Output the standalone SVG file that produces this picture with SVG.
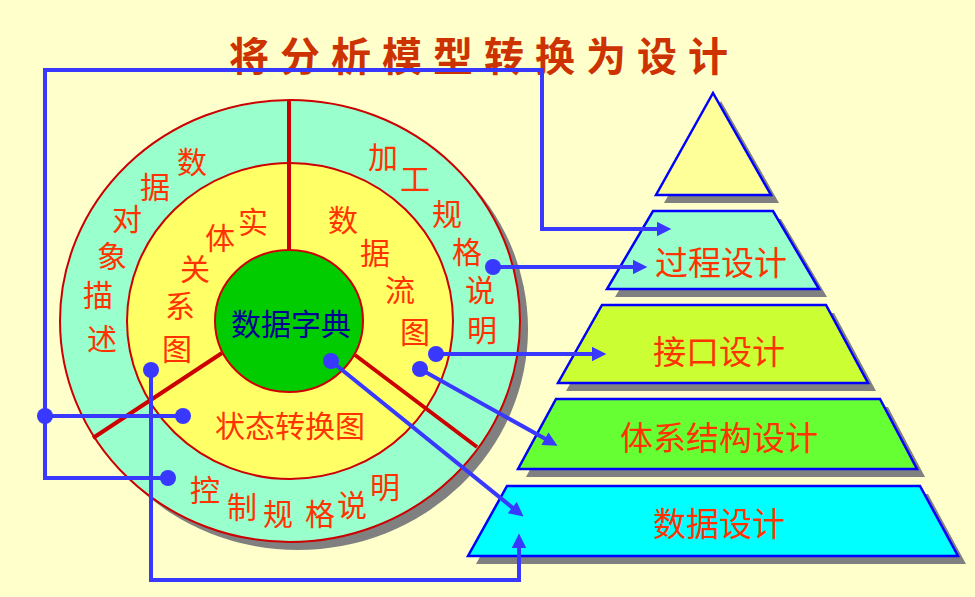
<svg xmlns="http://www.w3.org/2000/svg" width="975" height="597" viewBox="0 0 975 597">
<defs>
<style>
.ring{font-family:"Noto Sans CJK SC","Noto Sans",sans-serif;font-size:30px;fill:#FF3300;text-anchor:middle;dominant-baseline:central}
.lvl{font-family:"Noto Sans CJK SC","Noto Sans",sans-serif;font-size:33px;fill:#FF3300;text-anchor:middle;dominant-baseline:central}
.shadow{fill:#808080;stroke:none}
.tier{stroke:#0000FF;stroke-width:2.5}
.conn{fill:none;stroke:#3838FF;stroke-width:4}
.dot{fill:#3838FF}
.div{stroke:#CC0000;stroke-width:4}
</style>
<marker id="arr" viewBox="0 0 10 10" markerWidth="4" markerHeight="3.6" refX="6.25" refY="5" orient="auto" markerUnits="strokeWidth">
<path d="M0,0 L10,5 L0,10 z" fill="#3838FF"/>
</marker>
</defs>
<rect width="975" height="597" fill="#FFFFCC"/>
<text x="484" y="54" font-family="'Noto Sans CJK SC','Noto Sans',sans-serif" font-size="40" font-weight="bold" fill="#CC3300" text-anchor="middle" dominant-baseline="central" letter-spacing="11">将分析模型转换为设计</text>

<g id="wheel">
<ellipse cx="298" cy="329" rx="230" ry="221" class="shadow"/>
<ellipse cx="290" cy="321" rx="230" ry="221" fill="#99FFCC" stroke="#CC0000" stroke-width="2"/>
<ellipse cx="290" cy="321" rx="163" ry="158" fill="#FFFF66" stroke="#CC0000" stroke-width="2"/>
<line x1="289" y1="100" x2="289" y2="252" class="div"/>
<line x1="222" y1="353" x2="93" y2="438" class="div"/>
<line x1="355" y1="355" x2="477" y2="447" class="div"/>
<ellipse cx="289" cy="321" rx="74" ry="71" fill="#00CC00" stroke="#CC0000" stroke-width="2"/>
</g>

<g id="node-dd"><text x="291" y="322" class="ring" font-size="32" style="fill:#000099">数据字典</text></g>
<g id="node-obj">
<text x="192" y="160" class="ring">数</text><text x="155" y="185" class="ring">据</text><text x="127" y="217" class="ring">对</text><text x="112" y="254" class="ring">象</text><text x="98" y="293" class="ring">描</text><text x="102" y="337" class="ring">述</text>
</g>
<g id="node-er">
<text x="253" y="220" class="ring">实</text><text x="220" y="236" class="ring">体</text><text x="195" y="267" class="ring">关</text><text x="180" y="304" class="ring">系</text><text x="177" y="347" class="ring">图</text>
</g>
<g id="node-pspec">
<text x="383" y="155" class="ring">加</text><text x="415" y="177" class="ring">工</text><text x="447" y="212" class="ring">规</text><text x="467" y="250" class="ring">格</text><text x="480" y="288" class="ring">说</text><text x="482" y="328" class="ring">明</text>
</g>
<g id="node-dfd">
<text x="343" y="218" class="ring">数</text><text x="375" y="251" class="ring">据</text><text x="400" y="288" class="ring">流</text><text x="415" y="330" class="ring">图</text>
</g>
<g id="node-std"><text x="290" y="424" class="ring" font-size="32">状态转换图</text></g>
<g id="node-cspec">
<text x="205" y="488" class="ring">控</text><text x="242" y="505" class="ring">制</text><text x="278" y="512" class="ring">规</text><text x="320" y="512" class="ring">格</text><text x="352" y="503" class="ring">说</text><text x="385" y="485" class="ring">明</text>
</g>

<g id="tier-top">
<polygon points="721,101 664,203 779,203" class="shadow"/>
<polygon points="713,93 656,195 771,195" fill="#FFFF99" class="tier"/>
</g>
<g id="tier-proc">
<polygon points="661,219 781,219 827,297 615,297" class="shadow"/>
<polygon points="653,211 773,211 819,289 607,289" fill="#99FFCC" class="tier"/>
<text x="721" y="261" class="lvl">过程设计</text>
</g>
<g id="tier-intf">
<polygon points="610,313 834,313 876,391 566,391" class="shadow"/>
<polygon points="602,305 826,305 868,383 558,383" fill="#CCFF33" class="tier"/>
<text x="719" y="350" class="lvl">接口设计</text>
</g>
<g id="tier-arch">
<polygon points="564,407 888,407 925,477 526,477" class="shadow"/>
<polygon points="556,399 880,399 917,469 518,469" fill="#66FF33" class="tier"/>
<text x="719" y="436" class="lvl">体系结构设计</text>
</g>
<g id="tier-data">
<polygon points="515,494 928,494 966,564 476,564" class="shadow"/>
<polygon points="507,486 920,486 958,556 468,556" fill="#00FFFF" class="tier"/>
<text x="719" y="522" class="lvl">数据设计</text>
</g>

<g id="connectors">
<path d="M45,70 H542 V229 H666" class="conn" marker-end="url(#arr)"/>
<path d="M542,70 H45 V478 H168" class="conn"/>
<path d="M45,416 H183" class="conn"/>
<path d="M493,267 H642" class="conn" marker-end="url(#arr)"/>
<path d="M436,354 H601" class="conn" marker-end="url(#arr)"/>
<path d="M420,369 L552.8,443.1" class="conn" marker-end="url(#arr)"/>
<path d="M331,361 L519.3,513.2" class="conn" marker-end="url(#arr)"/>
<path d="M151,370 V580 H519 V539" class="conn" marker-end="url(#arr)"/>
<circle cx="493" cy="267" r="8" class="dot"/>
<circle cx="436" cy="354" r="8" class="dot"/>
<circle cx="420" cy="369" r="8" class="dot"/>
<circle cx="331" cy="361" r="8" class="dot"/>
<circle cx="151" cy="370" r="8" class="dot"/>
<circle cx="183" cy="416" r="8" class="dot"/>
<circle cx="168" cy="478" r="8" class="dot"/>
<circle cx="45" cy="416" r="8" class="dot"/>
</g>
</svg>
